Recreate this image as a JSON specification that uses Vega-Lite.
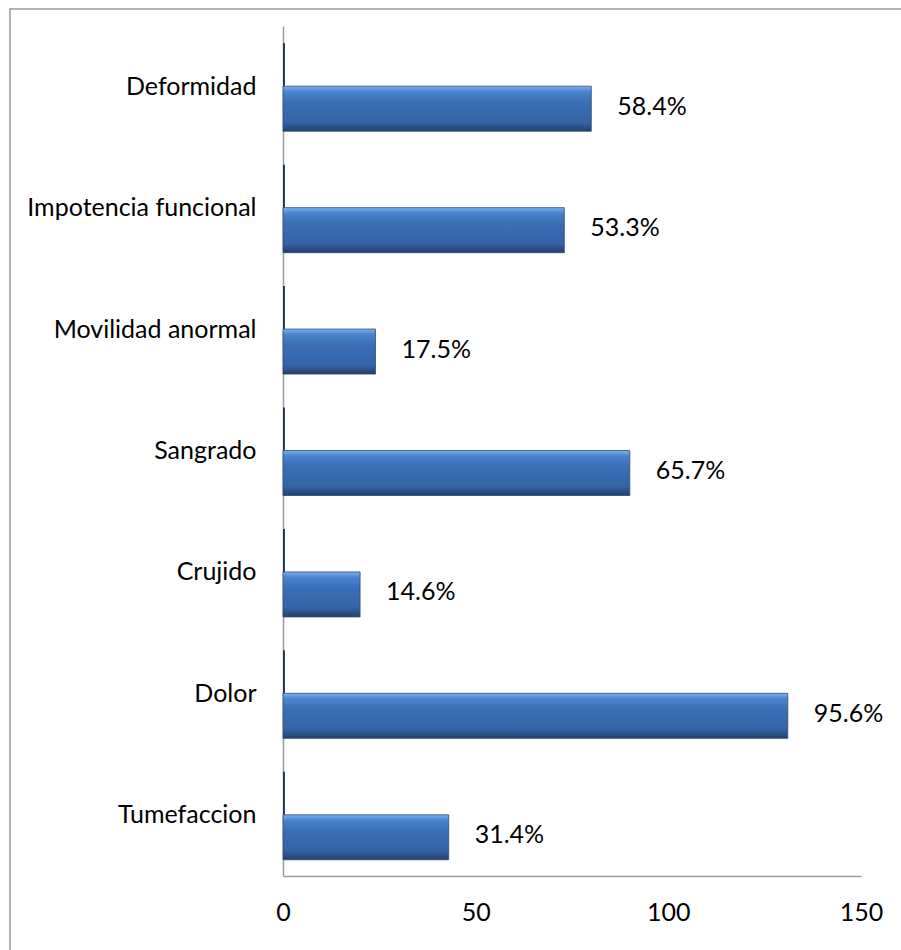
{
  "$schema": "https://vega.github.io/schema/vega-lite/v6.json",
  "autosize": {"type": "none"},
  "padding": {"left": 10, "top": 9, "right": 0, "bottom": 0},
  "width": 900,
  "height": 950,
  "background": "white",
  "config": {
    "view": {"stroke": "#9a9a9a", "strokeWidth": 1.5},
    "font": "Lato",
    "axis": {"labelFont": "Lato", "labelColor": "#000000", "labelFontSize": 25, "domainColor": "#9a9a9a", "domainWidth": 1.5, "ticks": false, "grid": false, "title": null}
  },
  "data": {
    "values": [
      {"sintoma": "Deformidad", "n": 80, "pct": "58.4%"},
      {"sintoma": "Impotencia funcional", "n": 73, "pct": "53.3%"},
      {"sintoma": "Movilidad anormal", "n": 24, "pct": "17.5%"},
      {"sintoma": "Sangrado", "n": 90, "pct": "65.7%"},
      {"sintoma": "Crujido", "n": 20, "pct": "14.6%"},
      {"sintoma": "Dolor", "n": 131, "pct": "95.6%"},
      {"sintoma": "Tumefaccion", "n": 43, "pct": "31.4%"}
    ]
  },
  "encoding": {
    "y": {"field": "sintoma", "type": "nominal", "sort": null,
      "scale": {"range": [17, 867]},
      "axis": {"labelPadding": 27, "labelLimit": 400, "offset": -273}}
  },
  "layer": [
    {
      "mark": {"type": "bar", "height": 43, "yOffset": -22, "color": "#1e3557"},
      "encoding": {
        "x": {"datum": 0, "type": "quantitative",
          "scale": {"domain": [0, 150], "range": [273, 851], "nice": false, "zero": true},
          "axis": {"values": [0, 50, 100, 150], "labelPadding": 24, "labelFlush": false, "offset": -83}},
        "x2": {"datum": 0.5}
      }
    },
    {
      "mark": {"type": "bar", "height": 45, "yOffset": 22, "stroke": "#2a4a78", "strokeWidth": 0.8,
        "color": {"gradient": "linear", "x1": 0, "y1": 0, "x2": 0, "y2": 1,
          "stops": [
            {"offset": 0, "color": "#7fb0ee"},
            {"offset": 0.12, "color": "#4a84cf"},
            {"offset": 0.35, "color": "#3a6fb6"},
            {"offset": 0.8, "color": "#3563a6"},
            {"offset": 1, "color": "#223f69"}
          ]}},
      "encoding": {
        "x": {"field": "n", "type": "quantitative"}
      }
    },
    {
      "mark": {"type": "text", "align": "left", "baseline": "middle", "dx": 26, "yOffset": 20, "fontSize": 25, "font": "Lato", "color": "#000000"},
      "encoding": {
        "x": {"field": "n", "type": "quantitative"},
        "text": {"field": "pct"}
      }
    }
  ]
}
